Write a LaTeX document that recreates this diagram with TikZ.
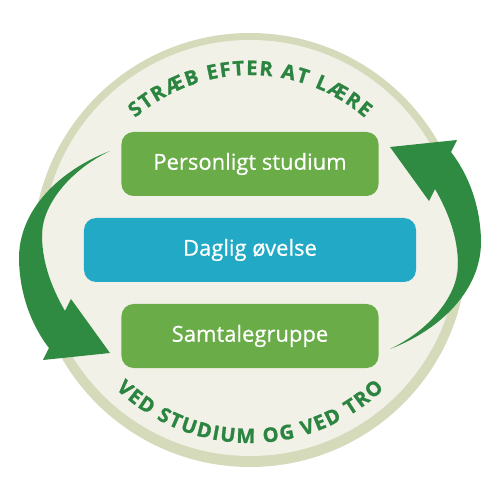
\documentclass[tikz,border=0pt]{standalone}
\usepackage{fontspec}
\setmainfont{Open Sans}
\newfontfamily\boxfont{Open Sans}[FakeBold=0.6]
\newfontfamily\slogfont{Open Sans}[BoldFeatures={FakeBold=1.2}]
\usetikzlibrary{decorations.text}
\definecolor{leafgreen}{HTML}{6AAC47}
\definecolor{deepgreen}{HTML}{2F8B41}
\definecolor{sloganGreen}{HTML}{2B8440}
\definecolor{skyblue}{HTML}{21A9C6}
\definecolor{ringolive}{HTML}{D5DABB}
\definecolor{paper}{HTML}{F2F1E8}

\begin{document}
\begin{tikzpicture}[x=1pt,y=1pt,
        box/.style={rounded corners=12pt, minimum height=64pt, inner sep=0pt,
            text=white, font=\boxfont\fontsize{22}{26}\selectfont},
        slogan/.style={decorate, decoration={text along path, text align={fit to path},
            text={|\slogfont\fontsize{20}{20}\selectfont\bfseries\color{sloganGreen}|#1}}}]
            \useasboundingbox (-250,-250) rectangle (250,250);
            \def\ringr{217}
            \def\discr{208}
            \def\toprad{175}
            \def\botrad{193}

            \fill[ringolive] (0,0) circle (\ringr);
            \fill[paper] (0,2) circle (\discr);

            \node[box, fill=leafgreen, minimum width=257pt] (study) at (0,86) {Personligt studium};
            \node[box, fill=skyblue, minimum width=332pt] (daily) at (0,0) {Daglig øvelse};
            \node[box, fill=leafgreen, minimum width=257pt] (group) at (0,-86) {Samtalegruppe};

            \path[slogan={STRÆB EFTER AT LÆRE}] (131:\toprad) arc[start angle=131, end angle=49, radius=\toprad];
            \path[slogan={VED STUDIUM OG VED TRO}] (226:\botrad) arc[start angle=226, end angle=314, radius=\botrad];

            \foreach \turn in {0,180} {
                \begin{scope}[rotate=\turn]
                    \coordinate (tail) at (-140,99);
                    \coordinate (outer) at (-231,-10);
                    \coordinate (outerfoot) at (-201,-98);
                    \coordinate (lowbarb) at (-207,-110);
                    \coordinate (tip) at (-140,-103);
                    \coordinate (upbarb) at (-179,-49);
                    \coordinate (innerfoot) at (-185,-61);
                    \coordinate (inner) at (-208,15);

                    \fill[deepgreen] (tail) .. controls (-190,80) and (-232,40) .. (outer)
                        .. controls (-230,-50) and (-215,-80) .. (outerfoot)
                        -- (lowbarb) -- (tip) -- (upbarb) -- (innerfoot)
                        .. controls (-200,-35) and (-208,-10) .. (inner)
                        .. controls (-208,45) and (-180,80) .. (tail) -- cycle;
                \end{scope}
            }
        \end{tikzpicture}
\end{document}
